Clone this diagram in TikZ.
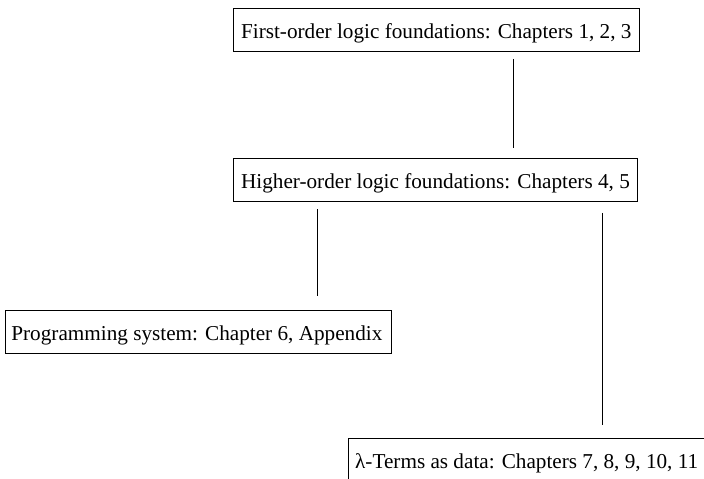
\documentclass[tikz,border=0pt]{standalone}
\usepackage{fontspec}
\setmainfont{Liberation Serif}
\usepackage{tikz}

\tikzset{
  part/.style={draw, line width=0.8pt, anchor=north west, inner xsep=8pt,
    minimum height=43pt, text height=18pt, text depth=0pt,
    font=\fontsize{21.2pt}{25pt}\selectfont},
  link/.style={line width=0.9pt}
}

\begin{document}
\begin{tikzpicture}[x=1pt, y=-1pt]
\useasboundingbox (0,0) rectangle (704,479);
%%%%%%%%%%%%%%%%%%%%%%%%%%%%%%%
% boxes
%%%%%%%%%%%%%%%%%%%%%%%%%%%%%%%
\node [part] (fol) at (232.7, 8) {First-order logic foundations: Chapters 1, 2, 3};
\node [part] (hol) at (232.7, 158) {Higher-order logic foundations: Chapters 4, 5};
\node [part, inner xsep=6pt] (prog) at (5, 310) {Programming system: Chapter 6, Appendix\hspace*{3pt}};
\node [part, inner xsep=6.5pt] (terms) at (348.3, 438) {λ-Terms as data: Chapters 7, 8, 9, 10, 11\hspace*{30pt}};
%
\coordinate (c1) at (513, 0);
\coordinate (c2) at (317.3, 0);
\coordinate (c3) at (602.7, 0);
%
\draw [link, shorten <=7pt, shorten >=10pt] (fol.south -| c1) -- (hol.north -| c1);
\draw [link, shorten <=7.3pt, shorten >=14pt] (hol.south -| c2) -- (prog.north -| c2);
\draw [link, shorten <=11pt, shorten >=13pt] (hol.south -| c3) -- (terms.north -| c3);
%%%%%%%%%%%%%%%%%%%%%%%%%%%%%%%
\end{tikzpicture}
\end{document}
